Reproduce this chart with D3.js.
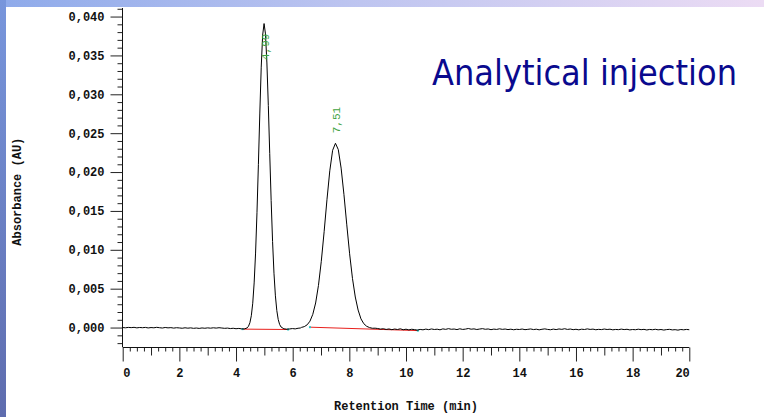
<!DOCTYPE html>
<html>
<head>
<meta charset="utf-8">
<script src="https://cdn.jsdelivr.net/npm/d3@7"></script>
<style>
  html, body { margin: 0; padding: 0; background: #ffffff; }
  svg { display: block; }
</style>
</head>
<body>
<svg id="chart" width="764" height="417"></svg>
<script>
// Chromatogram trace: [retention time (min), absorbance (AU)]
const trace = [
  [0.0, 0.00000], [0.1, -0.00003], [0.2, 0.00002], [0.3, -0.00001], [0.4, 0.00003],
  [0.5, -0.00004], [0.6, 0.00001], [0.7, -0.00002], [0.8, 0.00002], [0.9, -0.00005],
  [1.0, 0.00000], [1.1, -0.00003], [1.2, 0.00003], [1.3, -0.00002], [1.4, -0.00006],
  [1.5, 0.00001], [1.6, -0.00004], [1.7, -0.00001], [1.8, -0.00007], [1.9, -0.00002],
  [2.0, -0.00005], [2.1, -0.00009], [2.2, -0.00003], [2.3, -0.00008], [2.4, -0.00004],
  [2.5, -0.00010], [2.6, -0.00006], [2.7, -0.00011], [2.8, -0.00005], [2.9, -0.00009],
  [3.0, -0.00004], [3.1, -0.00008], [3.2, -0.00003], [3.3, -0.00007], [3.4, -0.00002],
  [3.5, -0.00006], [3.6, -0.00010], [3.7, -0.00007], [3.8, -0.00013], [3.9, -0.00009],
  [4.0, -0.00015], [4.1, -0.00011], [4.2, -0.00017],
  [4.29, -0.00018], [4.39, -0.00005], [4.44, 0.00017], [4.49, 0.00062], [4.54, 0.00152],
  [4.59, 0.00313], [4.64, 0.00574], [4.69, 0.00958], [4.74, 0.01477], [4.79, 0.02099],
  [4.84, 0.02759], [4.89, 0.03349], [4.94, 0.03761], [4.99, 0.03910], [5.04, 0.03777],
  [5.09, 0.03403], [5.14, 0.02857], [5.19, 0.02240], [5.24, 0.01634], [5.29, 0.01108],
  [5.34, 0.00699], [5.39, 0.00408], [5.44, 0.00218], [5.49, 0.00103], [5.54, 0.00039],
  [5.59, 0.00007], [5.69, -0.00016], [5.79, -0.00021],
  [5.89, -0.00018], [5.99, -0.00013], [6.09, -0.00017], [6.19, -0.00009], [6.27, -0.00006],
  [6.31, 0.00002], [6.41, 0.00012], [6.51, 0.00035], [6.61, 0.00082], [6.71, 0.00170],
  [6.81, 0.00316], [6.91, 0.00542], [7.01, 0.00852], [7.11, 0.01233], [7.21, 0.01644],
  [7.31, 0.02016], [7.41, 0.02280], [7.51, 0.02370], [7.61, 0.02289], [7.71, 0.02051],
  [7.81, 0.01709], [7.91, 0.01321], [8.01, 0.00949], [8.11, 0.00633], [8.21, 0.00393],
  [8.31, 0.00225], [8.41, 0.00112], [8.51, 0.00050], [8.61, 0.00017], [8.71, 0.00000],
  [8.81, -0.00009], [8.91, -0.00008],
  [9.0, -0.00012], [9.1, -0.00020], [9.2, -0.00015], [9.3, -0.00024], [9.4, -0.00018],
  [9.5, -0.00027], [9.6, -0.00019], [9.7, -0.00025], [9.8, -0.00016], [9.9, -0.00028],
  [10.0, -0.00021], [10.1, -0.00030], [10.2, -0.00022], [10.3, -0.00026], [10.4, -0.00033],
  [10.5, -0.00024], [10.6, -0.00029], [10.7, -0.00020], [10.8, -0.00027], [10.9, -0.00018],
  [11.0, -0.00025], [11.1, -0.00021], [11.2, -0.00029], [11.3, -0.00017], [11.4, -0.00023],
  [11.5, -0.00014], [11.6, -0.00022], [11.7, -0.00019], [11.8, -0.00026], [11.9, -0.00016],
  [12.0, -0.00024], [12.1, -0.00020], [12.2, -0.00012], [12.3, -0.00021], [12.4, -0.00017],
  [12.5, -0.00025], [12.6, -0.00019], [12.7, -0.00014], [12.8, -0.00022], [12.9, -0.00018],
  [13.0, -0.00027], [13.1, -0.00020], [13.2, -0.00024], [13.3, -0.00016], [13.4, -0.00023],
  [13.5, -0.00019], [13.6, -0.00026], [13.7, -0.00021], [13.8, -0.00028], [13.9, -0.00022],
  [14.0, -0.00025], [14.1, -0.00019], [14.2, -0.00027], [14.3, -0.00023], [14.4, -0.00018],
  [14.5, -0.00026], [14.6, -0.00021], [14.7, -0.00029], [14.8, -0.00022], [14.9, -0.00017],
  [15.0, -0.00024], [15.1, -0.00028], [15.2, -0.00020], [15.3, -0.00026], [15.4, -0.00018],
  [15.5, -0.00023], [15.6, -0.00015], [15.7, -0.00024], [15.8, -0.00019], [15.9, -0.00027],
  [16.0, -0.00022], [16.1, -0.00029], [16.2, -0.00021], [16.3, -0.00025], [16.4, -0.00017],
  [16.5, -0.00024], [16.6, -0.00020], [16.7, -0.00028], [16.8, -0.00023], [16.9, -0.00026],
  [17.0, -0.00019], [17.1, -0.00025], [17.2, -0.00021], [17.3, -0.00029], [17.4, -0.00024],
  [17.5, -0.00027], [17.6, -0.00020], [17.7, -0.00026], [17.8, -0.00022], [17.9, -0.00030],
  [18.0, -0.00025], [18.1, -0.00028], [18.2, -0.00021], [18.3, -0.00027], [18.4, -0.00023],
  [18.5, -0.00031], [18.6, -0.00024], [18.7, -0.00028], [18.8, -0.00022], [18.9, -0.00029],
  [19.0, -0.00025], [19.1, -0.00032], [19.2, -0.00026], [19.3, -0.00023], [19.4, -0.00030],
  [19.5, -0.00027], [19.6, -0.00033], [19.7, -0.00025], [19.8, -0.00029], [19.9, -0.00024],
  [20.0, -0.00028]
];

// Peak annotations (retention time of apex, printed label)
const peakTimes = [4.99, 7.51];
const peakLabels = ["4,99", "7,51"];

// Integration baselines drawn under each peak: start and end points
const baselineStarts = [[4.23, -0.00020], [6.61, 0.00005]];
const baselineEnds = [[5.84, -0.00025], [10.42, -0.00039]];

// Axis ticks and labels
const xTickValues = [0, 2, 4, 6, 8, 10, 12, 14, 16, 18, 20];
const yTickValues = [0, 0.005, 0.010, 0.015, 0.020, 0.025, 0.030, 0.035, 0.040];
const yTickLabels = ["0,000", "0,005", "0,010", "0,015", "0,020", "0,025", "0,030", "0,035", "0,040"];

const titleText = "Analytical injection";
const xAxisTitle = "Retention Time (min)";
const yAxisTitle = "Absorbance (AU)";

// ---------------------------------------------------------------------------
const W = 764, H = 417;
const svg = d3.select("#chart");
const defs = svg.append("defs");

// slide frame: blue strip on the left, blue-to-lavender strip along the top
const gTop = defs.append("linearGradient").attr("id", "topStrip")
  .attr("x1", "0").attr("x2", "1").attr("y1", "0").attr("y2", "0");
gTop.append("stop").attr("offset", "0").attr("stop-color", "#8eaaea");
gTop.append("stop").attr("offset", "0.45").attr("stop-color", "#bcc4f0");
gTop.append("stop").attr("offset", "1").attr("stop-color", "#ecdcf4");
const gLeft = defs.append("linearGradient").attr("id", "leftStrip")
  .attr("x1", "0").attr("x2", "0").attr("y1", "0").attr("y2", "1");
gLeft.append("stop").attr("offset", "0").attr("stop-color", "#7896dc");
gLeft.append("stop").attr("offset", "1").attr("stop-color", "#5e6cae");

svg.append("rect").attr("width", W).attr("height", H).attr("fill", "#ffffff");
svg.append("rect").attr("x", 0).attr("y", 0).attr("width", W).attr("height", 7).attr("fill", "url(#topStrip)");
svg.append("rect").attr("x", 0).attr("y", 0).attr("width", 6).attr("height", H).attr("fill", "url(#leftStrip)");

// scales
const x = d3.scaleLinear().domain([0, 20]).range([122.7, 689.3]);
const y = d3.scaleLinear().domain([-0.0025, 0.0411]).range([347, 8]);

const monoFont = "'Liberation Mono', 'DejaVu Sans Mono', monospace";

// y axis: minor ticks every 0.001, labelled major ticks every 0.005
const yMinor = d3.range(-2, 42).map(v => v / 1000).filter(v => Math.round(v * 1000) % 5 !== 0);
svg.append("g").attr("transform", "translate(122.5,0)")
  .call(d3.axisLeft(y).tickValues(yMinor).tickSize(5).tickFormat(""))
  .call(g => g.select(".domain").remove());
const yAxis = svg.append("g").attr("transform", "translate(122.5,0)")
  .call(d3.axisLeft(y).tickValues(yTickValues).tickSize(12).tickPadding(6)
    .tickFormat((d, i) => yTickLabels[i]));
yAxis.select(".domain").attr("d", `M0,${y.range()[1]}V${y.range()[0]}`);
yAxis.selectAll("text").attr("font-family", monoFont).attr("font-weight", "bold")
  .attr("font-size", 12).attr("fill", "#111");

// x axis: minor ticks every 0.25 min, medium at odd minutes, labelled every 2 min
const xMinor = d3.range(0, 81).map(v => v / 4).filter(v => v % 1 !== 0);
const xMid = d3.range(1, 20, 2);
svg.append("g").attr("transform", "translate(0,347.5)")
  .call(d3.axisBottom(x).tickValues(xMinor).tickSize(4).tickFormat(""))
  .call(g => g.select(".domain").remove());
svg.append("g").attr("transform", "translate(0,347.5)")
  .call(d3.axisBottom(x).tickValues(xMid).tickSize(8).tickFormat(""))
  .call(g => g.select(".domain").remove());
const xAxis = svg.append("g").attr("transform", "translate(0,347.5)")
  .call(d3.axisBottom(x).tickValues(xTickValues).tickSize(14).tickPadding(7)
    .tickFormat(d3.format("d")));
xAxis.select(".domain").attr("d", `M${x.range()[0]},0H${x.range()[1]}`);
xAxis.selectAll("text").attr("font-family", monoFont).attr("font-weight", "bold")
  .attr("font-size", 12).attr("fill", "#111")
  .attr("text-anchor", d => d === 0 ? "start" : (d === 20 ? "end" : "middle"));

svg.selectAll(".tick line").attr("stroke", "#222");
svg.selectAll(".domain").attr("stroke", "#111");

// axis titles
svg.append("text").attr("x", x(10)).attr("y", 410)
  .attr("text-anchor", "middle").attr("font-family", monoFont).attr("font-weight", "bold")
  .attr("font-size", 12).attr("fill", "#111").text(xAxisTitle);
svg.append("text").attr("transform", "translate(20.5,191.7) rotate(-90)")
  .attr("text-anchor", "middle").attr("font-family", monoFont).attr("font-weight", "bold")
  .attr("font-size", 12).attr("fill", "#111").text(yAxisTitle);

// integration baselines
baselineStarts.forEach((s, i) => {
  const e = baselineEnds[i];
  svg.append("line")
    .attr("x1", x(s[0])).attr("y1", y(s[1])).attr("x2", x(e[0])).attr("y2", y(e[1]))
    .attr("stroke", "#e8201c").attr("stroke-width", 1);
  [s, e].forEach(p => svg.append("rect")
    .attr("x", x(p[0]) - 1).attr("y", y(p[1]) - 1).attr("width", 2).attr("height", 2)
    .attr("fill", "#2cc6c6"));
});

// chromatogram trace
const line = d3.line().x(d => x(d[0])).y(d => y(d[1]));
svg.append("path").datum(trace)
  .attr("d", line).attr("fill", "none").attr("stroke", "#000").attr("stroke-width", 1)
  .attr("stroke-linejoin", "round");

// retention-time labels above each apex, rotated
peakTimes.forEach((t, i) => {
  const apex = trace.reduce((best, d) => Math.abs(d[0] - t) < Math.abs(best[0] - t) ? d : best);
  const yStart = Math.max(y(apex[1]) - 10, y.range()[1] + 52);
  svg.append("text")
    .attr("transform", `translate(${x(t) + 5},${yStart}) rotate(-90)`)
    .attr("text-anchor", "start").attr("font-family", monoFont)
    .attr("font-size", 11).attr("fill", "#3fa33f").text(peakLabels[i]);
});

// slide title, narrowed horizontally to the width of the slide heading
const title = svg.append("g").attr("transform", "translate(432,85)");
const titleNode = title.append("text")
  .attr("font-family", "'DejaVu Sans', Verdana, sans-serif").attr("font-size", 36)
  .attr("fill", "#0a0a8e").text(titleText);
const naturalWidth = titleNode.node().getComputedTextLength();
titleNode.attr("transform", `scale(${305 / naturalWidth},1)`);
</script>
</body>
</html>
